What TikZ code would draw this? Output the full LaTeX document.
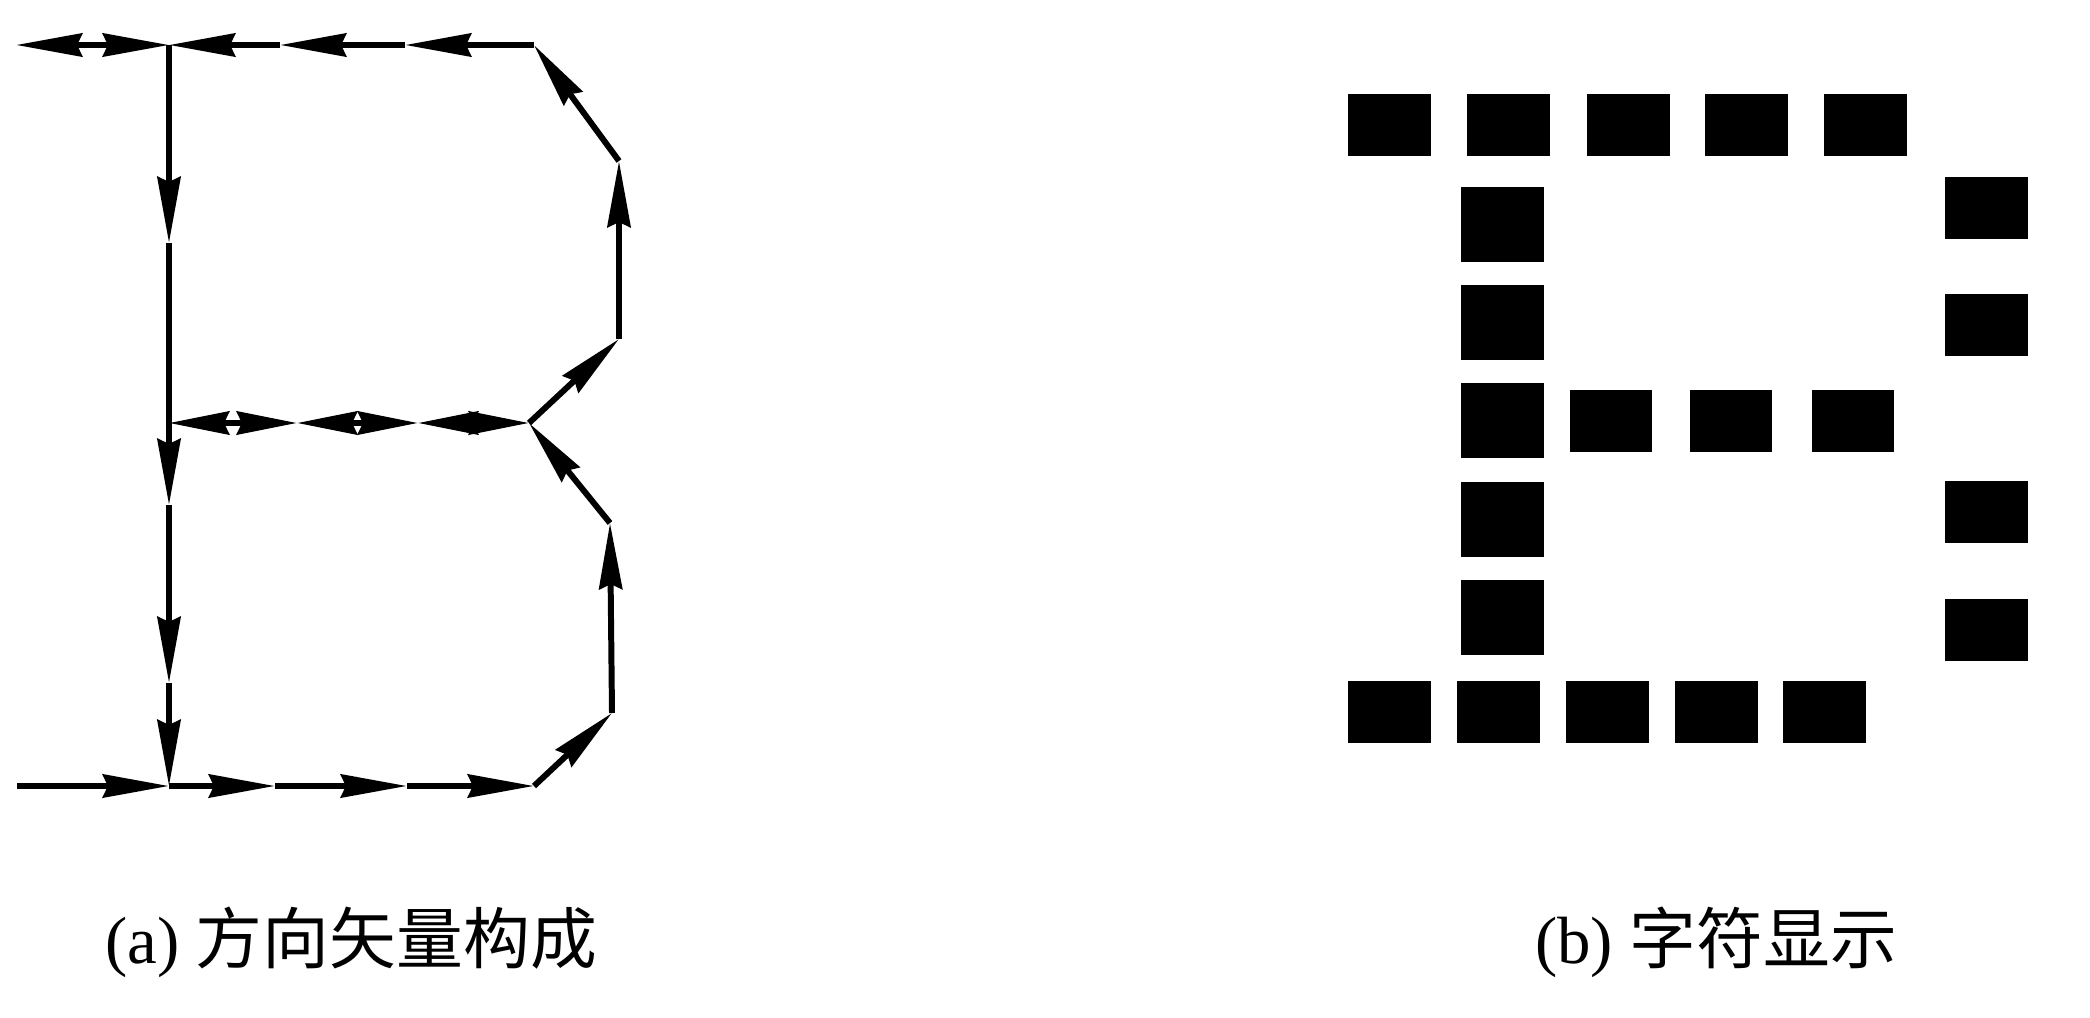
\documentclass[tikz,border=0pt]{standalone}
\usepackage{fontspec}
\setmainfont{Liberation Serif}
\newfontfamily\cjk{Noto Sans CJK SC}
\usetikzlibrary{arrows.meta}

\tikzset{
  vec/.style={line width=1.7pt, -{Stealth[length=6.6mm, width=2.3mm, inset=0.5mm]}},
  vecboth/.style={line width=1.7pt, {Stealth[length=6.6mm, width=2.3mm, inset=0.5mm]}-{Stealth[length=6.6mm, width=2.3mm, inset=0.5mm]}},
  vecmid/.style={line width=1.7pt, {Stealth[length=6mm, width=2.3mm, inset=0.5mm]}-{Stealth[length=6mm, width=2.3mm, inset=0.5mm]}},
  pix/.style={fill=black},
  caption/.style={font=\fontsize{19}{21}\selectfont, inner sep=0pt}
}

\begin{document}
\begin{tikzpicture}[x=0.01cm, y=-0.01cm]
\useasboundingbox (0,0) rectangle (2090,1018);

% (a) vectors
\coordinate (tl) at (16,45);
\coordinate (s0) at (169,45);
\coordinate (ta) at (280,45);
\coordinate (tb) at (405,45);
\coordinate (tr) at (534,45);
\coordinate (r1) at (619,161);
\coordinate (r2) at (619,339);
\coordinate (m) at (529,423);
\coordinate (mb) at (418,423);
\coordinate (ma) at (297,423);
\coordinate (m0) at (169,423);
\coordinate (r3) at (610,523);
\coordinate (r4) at (612,713);
\coordinate (br) at (534,786);
\coordinate (bb) at (407,786);
\coordinate (ba) at (275,786);
\coordinate (b0) at (169,786);
\coordinate (bl) at (17,786);
\coordinate (sa) at (169,243);
\coordinate (sb) at (169,505);
\coordinate (sc) at (169,683);

\draw[vecboth] (tl) -- (s0);
\draw[vec] (tr) -- (tb);
\draw[vec] (tb) -- (ta);
\draw[vec] (ta) -- (s0);
\draw[vec] (r1) -- (tr);
\draw[vec] (r2) -- (r1);
\draw[vec] (m) -- (r2);
\draw[vec] (r3) -- (m);
\draw[vec] (r4) -- (r3);
\draw[vec] (br) -- (r4);
\draw[vec] (bl) -- (b0);
\draw[vec] (b0) -- (ba);
\draw[vec] (ba) -- (bb);
\draw[vec] (bb) -- (br);
\draw[vecmid] (m0) -- (ma);
\draw[vecmid] (ma) -- (mb);
\draw[vecmid] (mb) -- (m);
\draw[vec] (s0) -- (sa);
\draw[vec] (sa) -- (sb);
\draw[vec] (sb) -- (sc);
\draw[vec] (sc) -- (b0);

% (b) dots
\foreach \x in {1348,1467,1587,1705,1824}
  \fill[pix] (\x,94) rectangle ++(83,62);
\foreach \y in {187,285,383,482,580}
  \fill[pix] (1461,\y) rectangle ++(83,75);
\foreach \x in {1570,1690,1812}
  \fill[pix] (\x,390) rectangle ++(82,62);
\foreach \y in {177,294,481,599}
  \fill[pix] (1945,\y) rectangle ++(83,62);
\foreach \x in {1348,1457,1566,1675,1783}
  \fill[pix] (\x,681) rectangle ++(83,62);

\node[caption] (capa) at (351,942) {(a) {\cjk 方向矢量构成}};
\node[caption] (capb) at (1716,942) {(b) {\cjk 字符显示}};
\end{tikzpicture}
\end{document}
